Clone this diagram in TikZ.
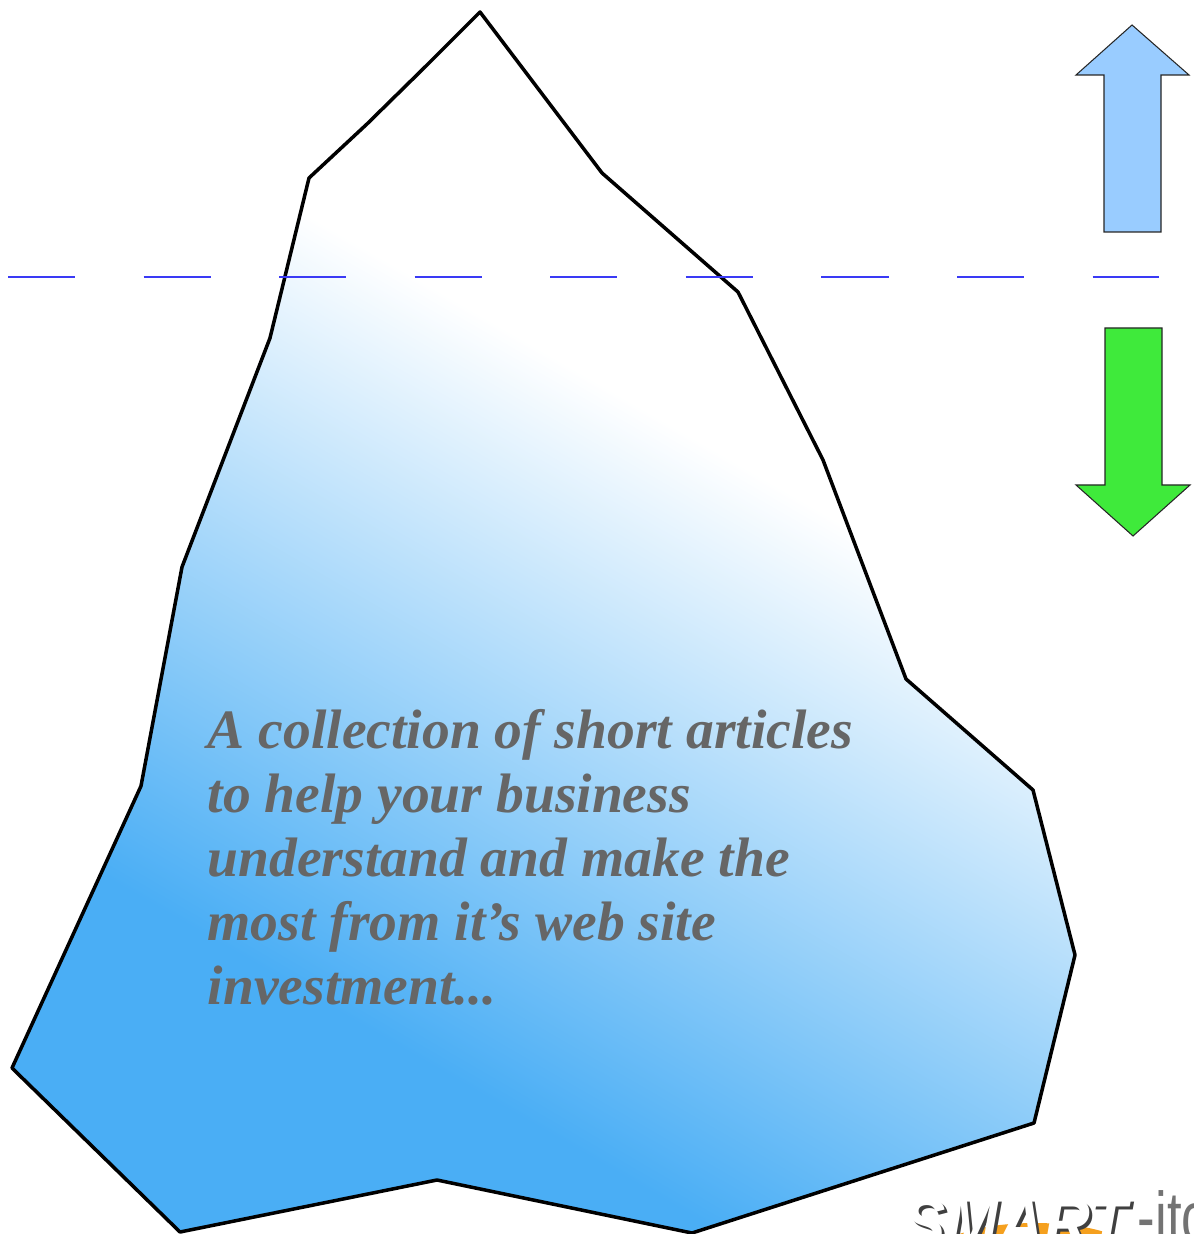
\documentclass[tikz,border=0pt]{standalone}
\usepackage{fontspec}
\setmainfont{Liberation Serif}
\newfontfamily\logofont{Liberation Sans}
\usepackage{xcolor}
\usepackage{tikz}
\definecolor{ice}{HTML}{4AAEF5}
\definecolor{sky}{HTML}{99CCFF}
\definecolor{sink}{HTML}{3FEA3B}
\definecolor{sea}{HTML}{3A3AF5}
\definecolor{ink}{HTML}{666666}
\definecolor{swoosh}{HTML}{F5A01E}
% middle 50bp of the shading gets stretched over the shaded box
\pgfdeclareverticalshading{bergfade}{100bp}{color(0bp)=(ice); color(40bp)=(ice); color(62.5bp)=(white); color(100bp)=(white)}
\tikzset{
  berg/.style={draw=black, line width=1pt, line join=round},
  waterline/.style={draw=sea, line width=0.35pt, dash pattern=on 0.67cm off 0.685cm},
  arrowshape/.style={draw=black!85, line width=0.3pt, line join=miter},
  blurb/.style={
    font=\bfseries\itshape\fontsize{15.8}{18.2}\selectfont,
    text=ink,
    align=left,
    inner sep=0pt,
    anchor=north west
  },
  logo/.style={
    font=\logofont\bfseries\itshape\fontsize{20}{20}\selectfont,
    inner sep=0pt,
    anchor=base west
  }
}

\begin{document}
\begin{tikzpicture}[x=0.01cm, y=-0.01cm]
  \useasboundingbox (0,0) rectangle (1193,1234);
  \clip (0,0) rectangle (1193,1234);

  % the iceberg, white at the tip fading to blue
  \draw[berg, path picture={
      \begin{scope}[transform canvas={shift={(560,620)}, rotate=-30}]
        \shade[shading=bergfade] (-1000,-600) rectangle (1000,900);
      \end{scope}}]
    (480,12) -- (602,173) -- (738,292) -- (823,460) -- (906,679)
    -- (1033,790) -- (1075,955) -- (1034,1123) -- (692,1233)
    -- (437,1180) -- (180,1232) -- (12,1068) -- (141,786)
    -- (182,567) -- (270,338) -- (309,178) -- (367,124)
    -- (426,66) -- cycle;

  % water level
  \draw[waterline] (8,277) -- (1159,277);

  % up / down arrows
  \draw[arrowshape, fill=sky] (1132,25) -- (1189,75) -- (1161,75)
    -- (1161,232) -- (1104,232) -- (1104,75) -- (1076,75) -- cycle;
  \draw[arrowshape, fill=sink] (1105,328) -- (1162,328) -- (1162,485)
    -- (1190,485) -- (1133,536) -- (1076,485) -- (1105,485) -- cycle;

  \node[blurb] (blurb) at (207,709)
    {A collection of short articles\\
     to help your business\\
     understand and make the\\
     most from it{\char"27}s web site\\
     investment...};

  % logo in the corner
  \fill[swoosh] (1035,1255) ellipse [x radius=100, y radius=32];
  \node[logo, text=black!75] (smartshade) at (906,1250)
    {\scalebox{0.9}[1]{SMART}};
  \node[logo, text=white] (smart) at (903,1247)
    {\scalebox{0.9}[1]{SMART}};
  \node[logo, font=\logofont\fontsize{20}{20}\selectfont, text=black!55]
    (smartit) at (1137,1241) {\scalebox{0.75}[1]{-itc}};
\end{tikzpicture}
\end{document}
